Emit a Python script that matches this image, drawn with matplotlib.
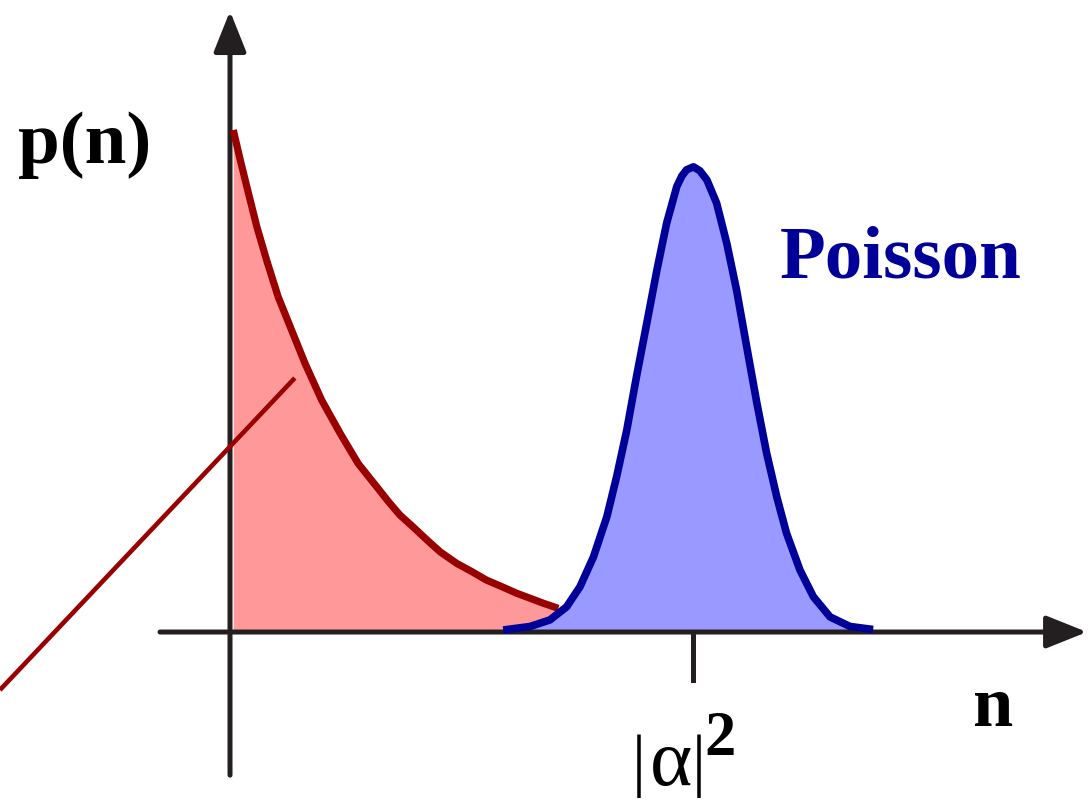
import numpy as np
import matplotlib.pyplot as plt

# thermal distribution p(n) (n, p), p(0) normalised to 1
thermal_n = [0.07, 0.22, 0.40, 0.58, 0.79, 1.04, 1.33, 1.62, 1.98, 2.38, 2.77,
             3.17, 3.42, 3.67, 3.96, 4.25, 4.54, 4.90, 5.22, 5.54, 5.87, 6.19, 6.77, 7.09]
thermal_p = [0.996, 0.937, 0.870, 0.804, 0.738, 0.665, 0.599, 0.533, 0.460, 0.394, 0.334,
             0.288, 0.259, 0.232, 0.208, 0.183, 0.159, 0.136, 0.120, 0.103, 0.090, 0.077,
             0.057, 0.047]

# Poisson distribution centred on |alpha|^2 = 10
poisson_n = [5.90, 6.48, 6.91, 7.27, 7.56, 7.85, 8.14, 8.35, 8.57, 8.78, 9.00, 9.22,
             9.43, 9.65, 9.76, 9.86, 10.01, 10.15, 10.30, 10.51, 10.73, 10.94, 11.16, 11.38,
             11.59, 11.81, 12.02, 12.31, 12.60, 12.96, 13.39, 13.89]
poisson_p = [0.004, 0.011, 0.024, 0.050, 0.090, 0.149, 0.229, 0.308, 0.401, 0.507, 0.612, 0.718,
             0.811, 0.884, 0.905, 0.917, 0.923, 0.915, 0.897, 0.851, 0.771, 0.679, 0.566, 0.454,
             0.355, 0.268, 0.196, 0.123, 0.070, 0.030, 0.011, 0.005]

alpha_sq = 10.0

# pointer line crossing the thermal area
pointer_n = [-4.97, 1.40]
pointer_p = [-0.115, 0.504]

AXIS_COL = '#231f20'
RED_LINE, RED_FILL = '#990000', '#ff9999'
BLUE_LINE, BLUE_FILL = '#000099', '#9999ff'

fig = plt.figure(figsize=(10.89, 8), dpi=100)
ax = fig.add_axes([0, 0, 1, 1])
ax.set_xlim(-4.968, 18.553)
ax.set_ylim(-0.3333, 1.254)
ax.axis('off')

# filled distributions
ax.fill_between(thermal_n, thermal_p, 0, color=RED_FILL, lw=0, zorder=1)
ax.fill_between(poisson_n, poisson_p, 0, color=BLUE_FILL, lw=0, zorder=2)

# axes with arrow heads
arrow = dict(arrowstyle='-|>,head_length=2.5,head_width=1.0', color=AXIS_COL,
             lw=3.6, shrinkA=0, shrinkB=0, mutation_scale=10)
ax.annotate('', xy=(0, 1.232), xytext=(0, -0.284), arrowprops=arrow, zorder=3)
ax.annotate('', xy=(18.51, 0), xytext=(-1.512, 0), arrowprops=arrow, zorder=3)
ax.plot([alpha_sq, alpha_sq], [0, -0.095], color=AXIS_COL, lw=3.6, zorder=3)

# curves
ax.plot(thermal_n, thermal_p, color=RED_LINE, lw=5.2, solid_joinstyle='round',
        solid_capstyle='butt', zorder=4)
ax.plot(poisson_n, poisson_p, color=BLUE_LINE, lw=5.5, solid_joinstyle='round',
        solid_capstyle='butt', zorder=5)
ax.plot(pointer_n, pointer_p, color=RED_LINE, lw=3.3, solid_capstyle='butt', zorder=4)

# labels
serif = 'Liberation Serif'
ax.text(-4.57, 0.930, 'p(n)', family=serif, weight='bold', fontsize=54,
        va='baseline', ha='left')
ax.text(11.88, 0.704, 'Poisson', family=serif, weight='bold', fontsize=54,
        color=BLUE_LINE, va='baseline', ha='left')
ax.text(16.05, -0.187, 'n', family=serif, weight='bold', fontsize=52,
        va='baseline', ha='left')

# |alpha|^2 under the tick
ax.text(8.834, -0.300, '|', family=serif, fontsize=50, va='baseline', ha='center')
ax.text(9.525, -0.3036, 'α', family=serif, fontsize=58, va='baseline', ha='center')
ax.text(10.13, -0.300, '|', family=serif, fontsize=50, va='baseline', ha='center')
ax.text(10.24, -0.244, '2', family=serif, weight='bold', fontsize=45,
        va='baseline', ha='left')

fig.savefig('out.png', dpi=100)
